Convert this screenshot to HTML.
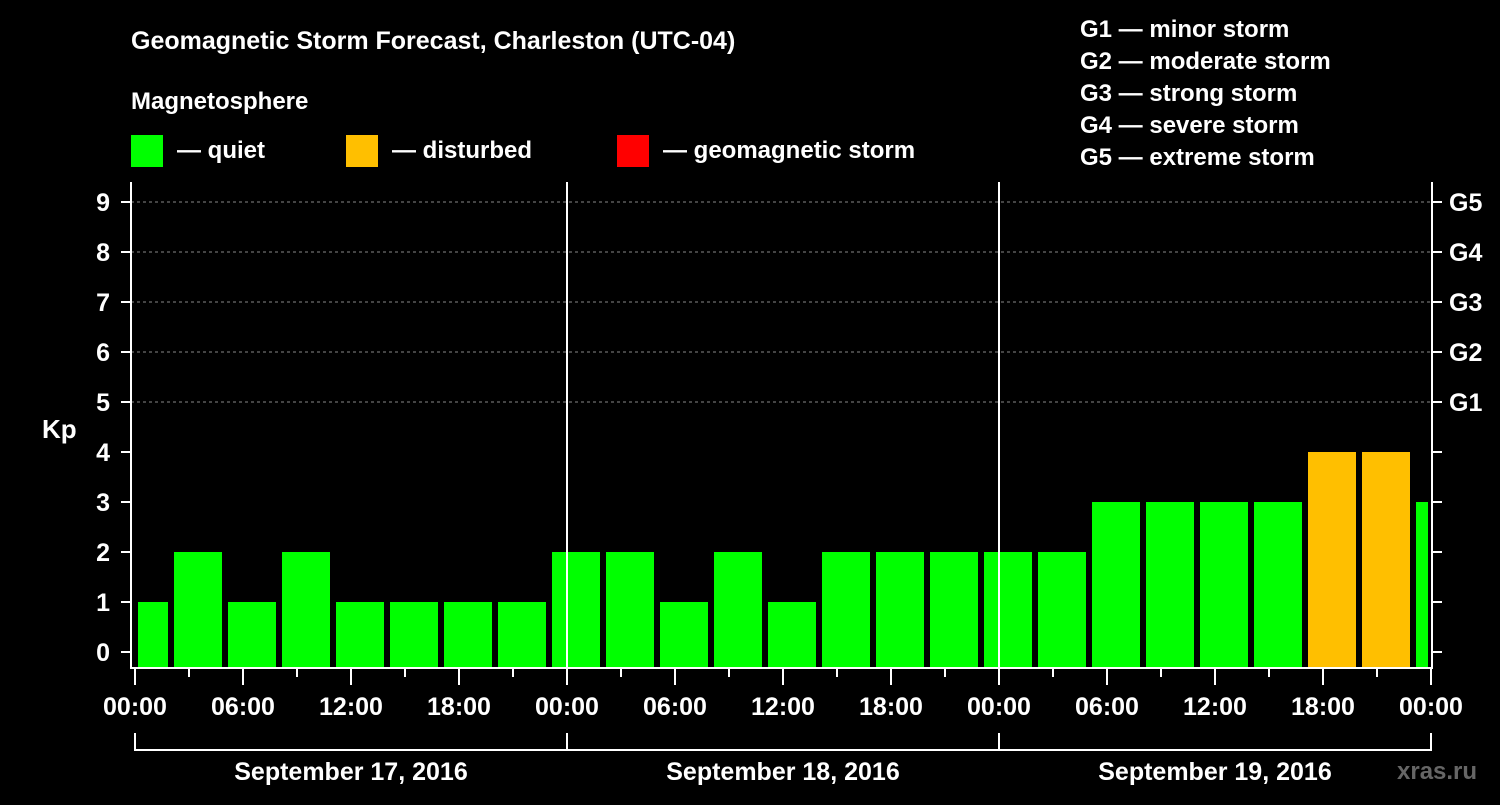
<!DOCTYPE html>
<html><head><meta charset="utf-8"><style>
html,body{margin:0;padding:0;background:#000;}
svg text{font-family:"Liberation Sans",Arial,sans-serif;font-weight:bold;fill:#fff;}
</style></head><body>
<svg width="1500" height="800" viewBox="0 0 1500 800" xmlns="http://www.w3.org/2000/svg">
<rect width="1500" height="800" fill="#000"/>
<text x="131" y="49" font-size="25">Geomagnetic Storm Forecast, Charleston (UTC-04)</text>
<text x="131" y="109" font-size="24">Magnetosphere</text>
<g><rect x="131" y="135" width="32" height="32" fill="#00ff00"/><text x="177" y="158" font-size="24">— quiet</text></g>
<g><rect x="346" y="135" width="32" height="32" fill="#ffbf00"/><text x="392" y="158" font-size="24">— disturbed</text></g>
<g><rect x="617" y="135" width="32" height="32" fill="#ff0000"/><text x="663" y="158" font-size="24">— geomagnetic storm</text></g>
<g font-size="24">
<text x="1080" y="37">G1 — minor storm</text>
<text x="1080" y="69">G2 — moderate storm</text>
<text x="1080" y="101">G3 — strong storm</text>
<text x="1080" y="133">G4 — severe storm</text>
<text x="1080" y="165">G5 — extreme storm</text>
</g>
<g id="plot"></g>
<text x="42" y="438" font-size="26">Kp</text>
<text x="1397" y="779" font-size="24" fill="#555" style="fill:#666">xras.ru</text>
</svg>
<script>
const kpValues=[1,2,1,2,1,1,1,1,2,2,1,2,1,2,2,2,2,2,3,3,3,3,4,4,3];
const slotStartHours=[0,2,5,8,11,14,17,20,23,26,29,32,35,38,41,44,47,50,53,56,59,62,65,68,71];
const slotEndHours=[2,5,8,11,14,17,20,23,26,29,32,35,38,41,44,47,50,53,56,59,62,65,68,71,72];
const dayLabels=["September 17, 2016","September 18, 2016","September 19, 2016"];
const hourLabels=["00:00","06:00","12:00","18:00"];
const gLabels=["G1","G2","G3","G4","G5"];
const NS="http://www.w3.org/2000/svg";
const g=document.getElementById('plot');
const X0=135,PXH=18,Y0=652,PXK=50,TOP=182,BOT=668,LEFT=131,RIGHT=1432;
const xs=h=>X0+h*PXH, ys=v=>Y0-v*PXK;
function mk(t,a,p){const e=document.createElementNS(NS,t);for(const k in a)e.setAttribute(k,a[k]);(p||g).appendChild(e);return e;}
// grid lines
for(let k=5;k<=9;k++){const l=mk('line',{x1:LEFT,x2:RIGHT,y1:ys(k),y2:ys(k),stroke:'#888','stroke-dasharray':'3,3','stroke-width':1});

}
// bars
kpValues.forEach((v,i)=>{
 const x1=xs(slotStartHours[i])+3,x2=xs(slotEndHours[i])-3;
 const col=v>=5?'#ff0000':(v>=4?'#ffbf00':'#00ff00');
 const r=mk('rect',{x:x1,y:ys(v),width:x2-x1,height:BOT-1-ys(v),fill:col});
 
 
});
// day separators
for(let d=1;d<3;d++){const l=mk('line',{x1:xs(d*24),x2:xs(d*24),y1:TOP,y2:BOT,stroke:'#fff','stroke-width':2});

}
// axes frame
const fr=mk('path',{d:`M${LEFT} ${TOP}V${BOT}H${RIGHT}V${TOP}`,stroke:'#fff','stroke-width':2,fill:'none'});


// y ticks
for(let k=0;k<=9;k++){
 mk('line',{x1:121,x2:LEFT,y1:ys(k),y2:ys(k),stroke:'#fff','stroke-width':2});
 mk('line',{x1:RIGHT,x2:1442,y1:ys(k),y2:ys(k),stroke:'#fff','stroke-width':2});
 const t=mk('text',{x:110,y:ys(k)+9,'font-size':25,'text-anchor':'end'});t.textContent=k;
 
 
}
gLabels.forEach((s,i)=>{const t=mk('text',{x:1449,y:ys(5+i)+9,'font-size':25});t.textContent=s;
 
 });
// x ticks
for(let h=0;h<=72;h+=3){const major=h%6===0;
 mk('line',{x1:xs(h),x2:xs(h),y1:BOT,y2:major?685:677,stroke:'#fff','stroke-width':2});
 if(major){const t=mk('text',{x:xs(h),y:715,'font-size':25,'text-anchor':'middle'});t.textContent=hourLabels[(h/6)%4];
 
 }
}
// day brackets
mk('line',{x1:xs(0),x2:xs(72),y1:750,y2:750,stroke:'#fff','stroke-width':2});
for(let d=0;d<=3;d++)mk('line',{x1:xs(d*24),x2:xs(d*24),y1:733,y2:751,stroke:'#fff','stroke-width':2});
dayLabels.forEach((s,d)=>{const t=mk('text',{x:xs(d*24+12),y:780,'font-size':25,'text-anchor':'middle'});t.textContent=s;
 
 });
</script>
</body></html>
